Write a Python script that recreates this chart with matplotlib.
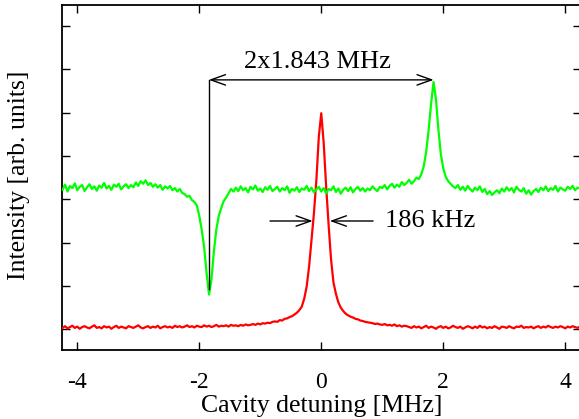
import numpy as np
import matplotlib
matplotlib.use('Agg')
import matplotlib.pyplot as plt

plt.rcParams['font.family'] = ['Liberation Serif', 'DejaVu Serif']

# detuning sweep grid (MHz), 0.04 MHz step
N_PTS = 213
detuning = np.linspace(-4.24, 4.24, N_PTS)

# green trace (transmission with mode splitting)
green_y = [
    # -4.24 .. -2.96
    3.22, 3.34, 3.18, 3.31, 3.26, 3.37, 3.21, 3.29, 3.33, 3.19,
    3.28, 3.35, 3.24, 3.30, 3.20, 3.32, 3.27, 3.38, 3.25, 3.31,
    3.22, 3.34, 3.29, 3.36, 3.23, 3.30, 3.35, 3.26, 3.33, 3.28,
    3.39, 3.31, 3.42,
    # -2.92 .. -2.72
    3.36, 3.44, 3.33, 3.38, 3.29, 3.35,
    # -2.68 .. -2.44
    3.27, 3.33, 3.22, 3.30, 3.25, 3.31, 3.21,
    # -2.40 .. -2.12
    3.26, 3.18, 3.24, 3.15, 3.12, 3.06, 3.08, 2.98,
    # dip -2.08 .. -1.44
    2.94, 2.86, 2.62, 2.30, 1.90, 1.30, 0.80, 1.15, 1.80, 2.30,
    2.62, 2.80, 2.96, 3.04, 3.14, 3.24, 3.18,
    # -1.40 .. 0.76
    3.27, 3.19, 3.30, 3.21, 3.26, 3.16, 3.29, 3.23, 3.32, 3.20,
    3.25, 3.17, 3.28, 3.22, 3.31, 3.19, 3.24, 3.29, 3.18, 3.26,
    3.21, 3.30, 3.15, 3.24, 3.20, 3.28, 3.17, 3.25, 3.22, 3.31,
    3.19, 3.27, 3.16, 3.23, 3.29, 3.18, 3.26, 3.14, 3.24, 3.21,
    3.30, 3.17, 3.25, 3.13, 3.22, 3.27, 3.19, 3.28, 3.16, 3.24,
    3.29, 3.20, 3.26, 3.18, 3.25,
    # 0.80 .. 1.48
    3.21, 3.30, 3.24, 3.19, 3.29, 3.26, 3.33, 3.23, 3.31, 3.36,
    3.27, 3.34, 3.29, 3.40, 3.33, 3.38, 3.45, 3.36,
    # peak 1.52 .. 2.16
    3.42, 3.50, 3.47, 3.58, 3.76, 4.10, 4.60, 5.20, 5.71, 5.32,
    4.62, 4.05, 3.72, 3.52, 3.42, 3.36, 3.30,
    # 2.20 .. 4.24
    3.26, 3.33, 3.22, 3.29, 3.20, 3.31, 3.24, 3.18, 3.27, 3.21,
    3.30, 3.17, 3.24, 3.12, 3.19, 3.10, 3.16, 3.21, 3.14, 3.25,
    3.18, 3.28, 3.20, 3.26, 3.16, 3.29, 3.22, 3.18, 3.26, 3.13,
    3.21, 3.11, 3.19, 3.24, 3.17, 3.27, 3.21, 3.30, 3.19, 3.26,
    3.22, 3.31, 3.18, 3.27, 3.23, 3.20, 3.29, 3.24, 3.31, 3.21,
    3.27, 3.25,
]

# red trace (empty cavity resonance)
red_y = [
    # -4.24 .. -1.44
    0.03, 0.07, 0.02, 0.05, 0.08, 0.03, 0.06, 0.01, 0.05, 0.07,
    0.04, 0.02, 0.06, 0.09, 0.03, 0.05, 0.02, 0.07, 0.04, 0.06,
    0.01, 0.05, 0.08, 0.03, 0.06, 0.04, 0.02, 0.07, 0.05, 0.03,
    0.06, 0.09, 0.04, 0.02, 0.05, 0.07, 0.03, 0.06, 0.04, 0.08,
    0.02, 0.05, 0.07, 0.04, 0.06, 0.03, 0.08, 0.05, 0.07, 0.04,
    0.06, 0.09, 0.05, 0.07, 0.04, 0.08, 0.06, 0.05, 0.09, 0.06,
    0.08, 0.05, 0.07, 0.10, 0.06, 0.08, 0.07, 0.09, 0.06, 0.10,
    0.08,
    # -1.40 .. -0.44
    0.09, 0.07, 0.10, 0.08, 0.11, 0.09, 0.10, 0.12, 0.10, 0.13,
    0.11, 0.14, 0.13, 0.15, 0.14, 0.17, 0.18, 0.17, 0.21, 0.20,
    0.24, 0.25, 0.28, 0.30, 0.34,
    # -0.40 .. 0.40
    0.38, 0.44, 0.52, 0.70, 0.98, 1.44, 2.05, 2.68, 3.45, 4.45,
    4.99, 4.30, 3.30, 2.42, 1.62, 1.08, 0.82, 0.62, 0.50, 0.42,
    0.36,
    # 0.44 .. 1.40
    0.32, 0.29, 0.27, 0.24, 0.23, 0.20, 0.19, 0.17, 0.16, 0.15,
    0.14, 0.12, 0.13, 0.11, 0.10, 0.12, 0.09, 0.10, 0.08, 0.11,
    0.07, 0.09, 0.06, 0.08, 0.07,
    # 1.44 .. 4.24
    0.05, 0.03, 0.07, 0.04, 0.06, 0.02, 0.05, 0.08, 0.03, 0.06,
    0.04, 0.01, 0.05, 0.07, 0.03, 0.06, 0.02, 0.04, 0.08, 0.05,
    0.03, 0.06, 0.01, 0.04, 0.07, 0.05, 0.02, 0.06, 0.03, 0.08,
    0.04, 0.06, 0.02, 0.05, 0.03, 0.07, 0.04, 0.01, 0.06, 0.05,
    0.03, 0.07, 0.04, 0.02, 0.06, 0.05, 0.08, 0.03, 0.05, 0.04,
    0.06, 0.02, 0.05, 0.07, 0.03, 0.06, 0.04, 0.08, 0.05, 0.03,
    0.06, 0.04, 0.07, 0.05, 0.02, 0.06, 0.04, 0.07, 0.05, 0.03,
    0.06,
]

split = 1.843          # MHz, half splitting
split_top = 5.76       # height of the splitting arrow
split_bottom = 0.92    # foot of the marker line
fwhm_y = 2.5           # height of the linewidth arrows
fwhm_left = (-0.84, -0.14)
fwhm_right = (0.85, 0.14)

fig = plt.figure(figsize=(5.79, 4.19), dpi=100)
ax = fig.add_axes([0.1071, 0.1647, 0.8955, 0.8234])

ax.plot(detuning, red_y, color='#ff0000', linewidth=1.6, zorder=3)
ax.plot(detuning, green_y, color='#00ff00', linewidth=1.6, zorder=3)

ax.set_xlim(-4.25, 4.25)
ax.set_ylim(-0.48, 7.49)
ax.set_xticks([-4, -2, 0, 2, 4])
ax.set_xticklabels(['-4', '-2', '0', '2', '4'])
ax.set_yticks(range(0, 8))
ax.set_yticklabels([])
ax.tick_params(direction='in', length=6, width=1, top=True, right=True,
               labelsize=17, pad=15.5)
for s in ax.spines.values():
    s.set_linewidth(1.3)

arrow_head = 'head_length=0.7,head_width=0.25'

# splitting annotation
ax.plot([-split, -split], [split_bottom, split_top], color='black', linewidth=1, zorder=4)
ax.annotate('', xy=(split, split_top), xytext=(-split, split_top),
            arrowprops=dict(arrowstyle='<->,' + arrow_head,
                            color='black', lw=1, mutation_scale=15,
                            shrinkA=0, shrinkB=0))
ax.text(-0.06, 6.17, '2x1.843 MHz', fontsize=19, ha='center', va='center')

# linewidth annotation
for tail, tip in (fwhm_left, fwhm_right):
    ax.annotate('', xy=(tip, fwhm_y), xytext=(tail, fwhm_y),
                arrowprops=dict(arrowstyle='->,' + arrow_head,
                                color='black', lw=1, mutation_scale=15,
                                shrinkA=0, shrinkB=0))
ax.text(1.04, fwhm_y, '186 kHz', fontsize=19, ha='left', va='center')

ax.set_xlabel('Cavity detuning [MHz]', fontsize=18.5, va='center')
ax.xaxis.set_label_coords(0.5, -0.162)
ax.set_ylabel('Intensity [arb. units]', fontsize=18.5, va='center')
ax.yaxis.set_label_coords(-0.083, 0.506)

fig.savefig('out.png', dpi=100)
